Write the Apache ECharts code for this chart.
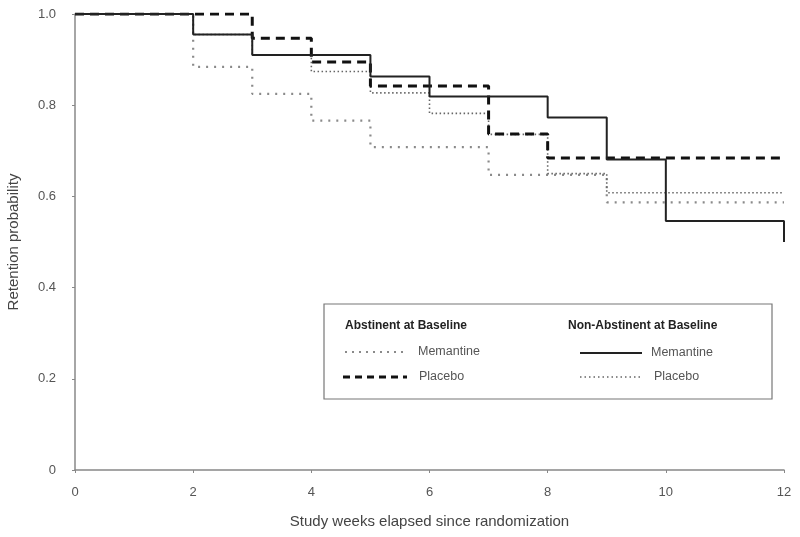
<!DOCTYPE html>
<html>
<head>
<meta charset="utf-8">
<script src="https://cdn.jsdelivr.net/npm/echarts@6/dist/echarts.min.js"></script>
<style>html,body{margin:0;padding:0;background:#fff}#c{width:800px;height:537px}</style>
</head>
<body>
<div id="c"></div>
<script>
// Data (weeks, retention probability)
const xTicks = [0, 2, 4, 6, 8, 10, 12];
const yTicks = [0, 0.2, 0.4, 0.6, 0.8, 1.0];

const absMemWeeks = [0, 2, 3, 4, 5, 7, 9, 12];
const absMemVals  = [1, 0.884, 0.825, 0.766, 0.708, 0.647, 0.587, 0.587];

const absPlaWeeks = [0, 3, 4, 5, 7, 8, 12];
const absPlaVals  = [1, 0.947, 0.895, 0.842, 0.737, 0.684, 0.684];

const nonMemWeeks = [0, 2, 3, 5, 6, 8, 9, 10, 12, 12];
const nonMemVals  = [1, 0.955, 0.910, 0.863, 0.819, 0.773, 0.681, 0.546, 0.546, 0.50];

const nonPlaWeeks = [0, 2, 3, 4, 5, 6, 7, 8, 9, 12];
const nonPlaVals  = [1, 0.955, 0.910, 0.874, 0.827, 0.782, 0.736, 0.650, 0.608, 0.608];

const legendHeads = ['Abstinent at Baseline', 'Non-Abstinent at Baseline'];
const legendItems = ['Memantine', 'Placebo'];

const pairs = (w, v) => w.map((x, i) => [x, v[i]]);

const chart = echarts.init(document.getElementById('c'), null, {renderer: 'canvas'});
const FONT = 'Liberation Sans, Arial, sans-serif';

const mk = (name, data, color, width, type, z) => ({
  name, type: 'line', step: 'end', data, symbol: 'none', z,
  lineStyle: {color, width, type}, animation: false
});

const L = {x0: 324, y0: 304, w: 448, h: 95};

chart.setOption({
  animation: false,
  grid: {left: 75, right: 16, top: 14, bottom: 67, containLabel: false, outerBoundsMode: 'none'},
  xAxis: {
    type: 'value', min: 0, max: 12, interval: 2,
    name: 'Study weeks elapsed since randomization',
    nameLocation: 'middle', nameGap: 44,
    nameTextStyle: {fontFamily: FONT, fontSize: 15, color: '#444'},
    axisLine: {lineStyle: {color: '#888', width: 1.5}},
    axisTick: {show: true, length: 3, inside: false, lineStyle: {color: '#888'}},
    axisLabel: {fontFamily: FONT, fontSize: 13, color: '#555', margin: 16},
    splitLine: {show: false}
  },
  yAxis: {
    type: 'value', min: 0, max: 1, interval: 0.2,
    name: 'Retention probability',
    nameLocation: 'middle', nameGap: 54, nameRotate: 90,
    nameTextStyle: {fontFamily: FONT, fontSize: 15, color: '#444'},
    axisLine: {show: true, lineStyle: {color: '#888', width: 1.5}},
    axisTick: {show: true, length: 3, lineStyle: {color: '#888'}},
    axisLabel: {fontFamily: FONT, fontSize: 13, color: '#555', margin: 19,
      formatter: v => v === 0 ? '0' : v.toFixed(1)},
    splitLine: {show: false}
  },
  series: [
    mk('Abstinent Memantine', pairs(absMemWeeks, absMemVals), '#8a8a8a', 2.2, [2, 6], 2),
    mk('Non-Abstinent Placebo', pairs(nonPlaWeeks, nonPlaVals), '#666', 1.6, [1.5, 2.5], 3),
    mk('Abstinent Placebo', pairs(absPlaWeeks, absPlaVals), '#111', 3, [9, 6], 4),
    mk('Non-Abstinent Memantine', pairs(nonMemWeeks, nonMemVals), '#222', 2, 'solid', 5)
  ],
  graphic: [
    {type: 'rect', shape: {x: L.x0, y: L.y0, width: L.w, height: L.h},
     style: {fill: '#fff', stroke: '#777', lineWidth: 1.2}, z: 10},
    {type: 'text', x: 345, y: 320, style: {text: legendHeads[0], font: 'bold 12px ' + FONT, fill: '#222'}, z: 11},
    {type: 'text', x: 568, y: 320, style: {text: legendHeads[1], font: 'bold 12px ' + FONT, fill: '#222'}, z: 11},
    {type: 'line', shape: {x1: 345, y1: 352, x2: 407, y2: 352}, style: {stroke: '#8a8a8a', lineWidth: 2, lineDash: [2, 5]}, z: 11},
    {type: 'text', x: 418, y: 345, style: {text: legendItems[0], font: '12.5px ' + FONT, fill: '#555'}, z: 11},
    {type: 'line', shape: {x1: 343, y1: 377, x2: 407, y2: 377}, style: {stroke: '#111', lineWidth: 3, lineDash: [7, 5]}, z: 11},
    {type: 'text', x: 419, y: 370, style: {text: legendItems[1], font: '12.5px ' + FONT, fill: '#555'}, z: 11},
    {type: 'line', shape: {x1: 580, y1: 353, x2: 642, y2: 353}, style: {stroke: '#222', lineWidth: 2}, z: 11},
    {type: 'text', x: 651, y: 346, style: {text: legendItems[0], font: '12.5px ' + FONT, fill: '#555'}, z: 11},
    {type: 'line', shape: {x1: 580, y1: 377, x2: 640, y2: 377}, style: {stroke: '#666', lineWidth: 1.6, lineDash: [1.5, 3]}, z: 11},
    {type: 'text', x: 654, y: 370, style: {text: legendItems[1], font: '12.5px ' + FONT, fill: '#555'}, z: 11}
  ]
});
</script>
</body>
</html>
